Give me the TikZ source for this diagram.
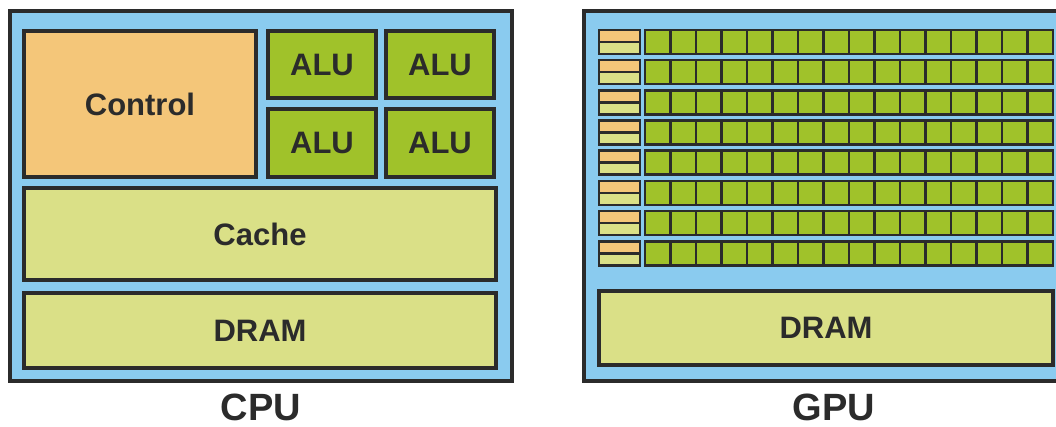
\documentclass[tikz,border=0pt]{standalone}
\usepackage{fontspec}
\setmainfont{Liberation Sans}
\definecolor{chipblue}{HTML}{8ACBEF}
\definecolor{ctrlorange}{HTML}{F4C679}
\definecolor{alugreen}{HTML}{A0C22A}
\definecolor{cachegreen}{HTML}{DAE087}
\definecolor{edge}{HTML}{2B2B2B}
\begin{document}
\begin{tikzpicture}[x=1pt,y=-1pt,
  txt/.style={text=edge, font=\fontsize{31}{31}\selectfont\bfseries, inner sep=0pt},
  box/.style={draw=edge, line width=4pt, inner sep=0pt, outer sep=0pt, rectangle, anchor=north west},
  chip/.style={box, fill=chipblue},
  ctrl/.style={box, fill=ctrlorange},
  alu/.style={box, fill=alugreen},
  mem/.style={box, fill=cachegreen},
  cell/.style={draw=edge, line width=2.6pt, inner sep=0pt, outer sep=0pt, rectangle, anchor=north west, fill=alugreen, minimum width=25.5pt, minimum height=24pt},
  half/.style={cell, minimum width=41pt, minimum height=12pt},
  label/.style={font=\fontsize{38}{38}\selectfont\bfseries, text=edge, inner sep=0pt, anchor=base}
]
\path[use as bounding box, fill=white] (0,0) rectangle (1056,427);
\clip (0,0) rectangle (1056,427);

% CPU
\node[chip, minimum width=502pt, minimum height=370pt] (cpu) at (10,11) {};
\node[ctrl, minimum width=232pt, minimum height=146pt] (control) at (24,31) {};
\node[txt] at (control.center) {Control};
\node[alu, minimum width=108pt, minimum height=67pt] (alu1) at (268,31) {};
\node[alu, minimum width=108pt, minimum height=67pt] (alu2) at (386,31) {};
\node[alu, minimum width=108pt, minimum height=68pt] (alu3) at (268,109) {};
\node[alu, minimum width=108pt, minimum height=68pt] (alu4) at (386,109) {};
\foreach \a in {alu1,alu2,alu3,alu4}
  \node[txt] at (\a.center) {ALU};
\node[mem, minimum width=472pt, minimum height=92pt] (cache) at (24,188) {};
\node[txt] at (cache.center) {Cache};
\node[mem, minimum width=472pt, minimum height=75pt] (dram1) at (24,293) {};
\node[txt] at (dram1.center) {DRAM};

% GPU
\node[chip, minimum width=490pt, minimum height=370pt] (gpu) at (584,11) {};
\foreach \r in {0,...,7} {
  \pgfmathsetmacro{\top}{30+30.2*\r}
  \pgfmathsetmacro{\mid}{\top+12}
  \node[half, fill=ctrlorange] (ctl-\r) at (599,\top) {};
  \node[half, fill=cachegreen] (cch-\r) at (599,\mid) {};
  \foreach \c in {0,...,15} {
    \pgfmathsetmacro{\left}{645+25.5*\c}
    \node[cell] (cell-\r-\c) at (\left,\top) {};
  }
}
\node[mem, minimum width=454pt, minimum height=74pt] (dram2) at (599,291) {};
\node[txt] at (dram2.center) {DRAM};

% labels
\node[label] (cpulabel) at (261,420) {CPU};
\node[label] (gpulabel) at (834,420) {GPU};
\end{tikzpicture}
\end{document}
